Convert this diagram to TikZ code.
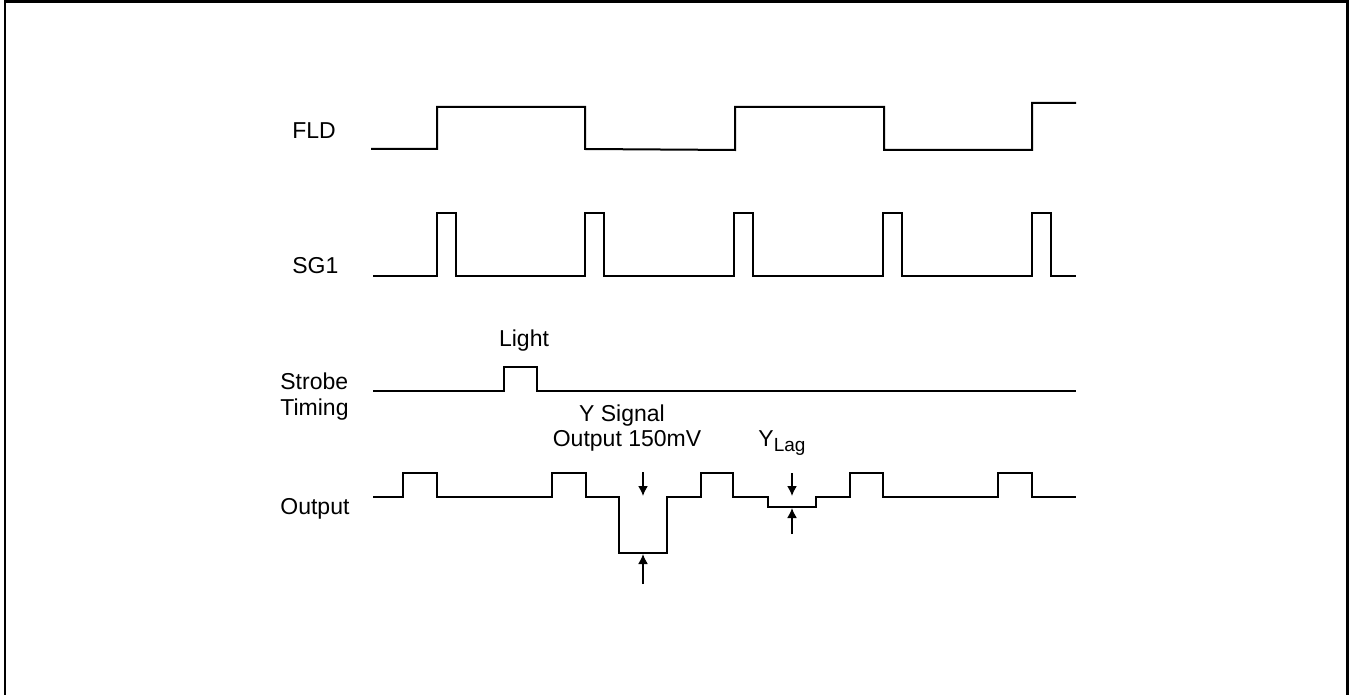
\documentclass[tikz,border=0pt]{standalone}
\usepackage{fontspec}
\setmainfont{Liberation Sans}
\usetikzlibrary{arrows.meta}
\begin{document}
\begin{tikzpicture}[x=0.5pt,y=-0.5pt,
  sig/.style={line width=1pt, line join=miter},
  frame/.style={line width=1.2pt},
  lbl/.style={font=\fontsize{11.5}{13}\selectfont, inner sep=0pt, anchor=base west},
  ctxt/.style={font=\fontsize{11.5}{13}\selectfont, inner sep=0pt, anchor=base},
  meas/.style={line width=0.8pt, -{Latex[length=5pt,width=5pt]}}]
\useasboundingbox (0,0) rectangle (1349,695);
% frame
\draw[frame] (5,697) -- (5,1.5) -- (1347.5,1.5) -- (1347.5,697);
% labels
\node[lbl] (lfld) at (292,139) {FLD};
\node[lbl] (lsg) at (292,274) {SG1};
\node[lbl] (lstr) at (280,389) {Strobe};
\node[lbl] (ltim) at (280,415) {Timing};
\node[lbl] (lout) at (280,514) {Output};
\node[ctxt] (light) at (524,346.5) {Light};
\node[ctxt] (ysig) at (622,421.5) {Y Signal};
\node[ctxt] (yout) at (627,446.5) {Output 150mV};
\node[lbl] (ylag) at (758,446.5) {Y\raisebox{-0.45ex}{\fontsize{9.5}{11}\selectfont Lag}};
% FLD
\draw[sig] (371,149) -- (437,149) -- (437,107) -- (585,107) -- (585,149) -- (735,150)
  -- (735,107) -- (884,107) -- (884,150) -- (1032,150) -- (1032,103) -- (1076,103);
% SG1
\draw[sig] (373,276) -- (437,276) -- (437,213) -- (456,213) -- (456,276)
  -- (585,276) -- (585,213) -- (604,213) -- (604,276)
  -- (734,276) -- (734,213) -- (753,213) -- (753,276)
  -- (883,276) -- (883,213) -- (902,213) -- (902,276)
  -- (1032,276) -- (1032,213) -- (1051,213) -- (1051,276) -- (1076,276);
% Strobe
\draw[sig] (373,391) -- (504,391) -- (504,367) -- (537,367) -- (537,391) -- (1076,391);
% Output
\draw[sig] (373,497) -- (403,497) -- (403,473) -- (437,473) -- (437,497)
  -- (552,497) -- (552,473) -- (586,473) -- (586,497)
  -- (619,497) -- (619,553) -- (667,553) -- (667,497)
  -- (701,497) -- (701,473) -- (733,473) -- (733,497)
  -- (768,497) -- (768,507) -- (816,507) -- (816,497)
  -- (850,497) -- (850,473) -- (883,473) -- (883,497)
  -- (998,497) -- (998,473) -- (1032,473) -- (1032,497) -- (1076,497);
% measurement arrows
\coordinate (a1s) at (643,472); \coordinate (a1e) at (643,496);
\coordinate (a2s) at (643,584); \coordinate (a2e) at (643,554);
\coordinate (a3s) at (792,473); \coordinate (a3e) at (792,496);
\coordinate (a4s) at (792,534); \coordinate (a4e) at (792,508);
\draw[meas] (a1s) -- (a1e);
\draw[meas] (a2s) -- (a2e);
\draw[meas] (a3s) -- (a3e);
\draw[meas] (a4s) -- (a4e);
\end{tikzpicture}
\end{document}
